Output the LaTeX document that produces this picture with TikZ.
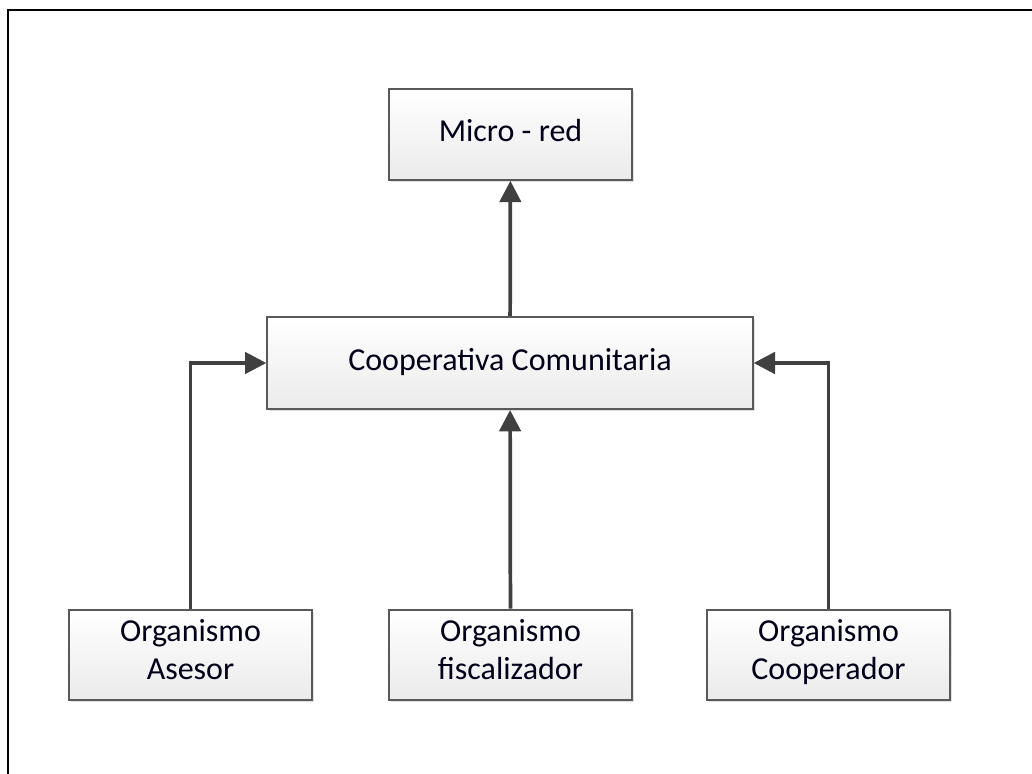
\documentclass[tikz,border=0pt]{standalone}
\usepackage{fontspec}
\setmainfont{Carlito}
\usetikzlibrary{arrows.meta}
\usetikzlibrary{shadows}

\tikzset{
  orgbox/.style={draw=black!65, line width=1.5pt, rectangle,
    top color=white, bottom color=black!8,
    drop shadow={shadow xshift=1.5pt, shadow yshift=-1.5pt, fill=black!20, opacity=0.6},
    minimum width=182pt, minimum height=68pt, inner sep=0pt, align=center,
    font=\fontsize{24}{28}\selectfont, text=black!90!blue,
    execute at end node=\strut},
  link/.style={draw=black!75, line width=2.8pt,
    -{Triangle[length=16pt, width=16pt]}},
}

\begin{document}
\begin{tikzpicture}[x=0.75pt, y=-0.75pt]

  \useasboundingbox (0,0) rectangle (1032,774);

  % outer frame (cut by the page on the right and at the bottom)
  \draw[line width=2pt] (8,774) -- (8,10) -- (1032,10);

  % boxes
  \node[orgbox] (micro) at (510.5,134.5) {Micro - red};
  \node[orgbox, minimum width=364pt, minimum height=69pt] (coop) at (510,363)
    {Cooperativa Comunitaria};

  \node[orgbox] (asesor) at (190.5,655) {Organismo\\Asesor};
  \node[orgbox] (fisc)   at (510.5,655) {Organismo\\fiscalizador};
  \node[orgbox] (coopr)  at (828.5,655) {Organismo\\Cooperador};

  % connectors
  \draw[link] (coop) -- (micro);
  \draw[link] (fisc) -- (coop);
  \draw[link] (asesor.north) |- (coop.west);
  \draw[link] (coopr.north) |- (coop.east);

\end{tikzpicture}
\end{document}
